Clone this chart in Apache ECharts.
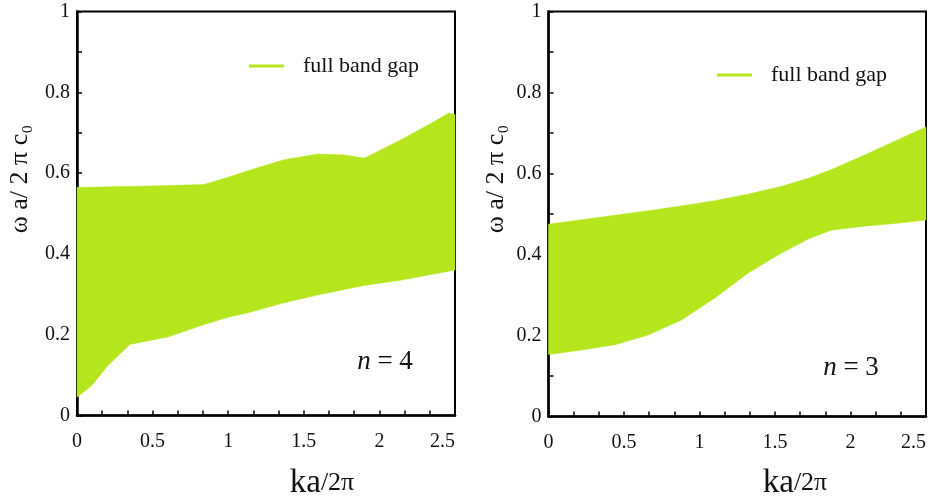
<!DOCTYPE html>
<html><head><meta charset="utf-8">
<script src="https://cdn.jsdelivr.net/npm/echarts@6/dist/echarts.min.js"></script>
<style>html,body{margin:0;padding:0;background:#fff}#c{width:934px;height:497px}</style>
</head><body><div id="c"></div>
<script>
// n = 4 (left panel)
const kLeft     = [0, 0.1, 0.2, 0.35, 0.6, 0.84, 1.0, 1.15, 1.37, 1.59, 1.77, 1.9, 2.14, 2.36, 2.46, 2.5];
const upperLeft = [0.565, 0.565, 0.566, 0.567, 0.569, 0.572, 0.59, 0.608, 0.633, 0.647, 0.645, 0.637, 0.682, 0.727, 0.749, 0.745];
const lowerLeft = [0.045, 0.075, 0.122, 0.176, 0.194, 0.225, 0.243, 0.256, 0.279, 0.298, 0.312, 0.322, 0.335, 0.350, 0.357, 0.36];
// n = 3 (right panel)
const kRight     = [0, 0.22, 0.44, 0.66, 0.88, 1.1, 1.32, 1.54, 1.72, 1.87, 2.09, 2.31, 2.5];
const upperRight = [0.475, 0.486, 0.497, 0.508, 0.520, 0.533, 0.549, 0.568, 0.588, 0.609, 0.645, 0.683, 0.715];
const lowerRight = [0.153, 0.164, 0.177, 0.201, 0.238, 0.292, 0.354, 0.403, 0.438, 0.460, 0.470, 0.477, 0.485];

const seriesName = 'full band gap';
const panelLabels = ['4', '3'];
const GREEN = '#b5e61d';
const FONT = 'Liberation Serif';
const INK = '#111';

function xAx(i){
  return {type:'value', gridIndex:i, min:0, max:2.5, interval:0.5,
    axisLine:{show:true, lineStyle:{color:'#000', width:2.5}},
    axisTick:{show:true, inside:true, length:5, lineStyle:{color:'#000', width:1.5}},
    minorTick:{show:true, splitNumber:3, length:5, lineStyle:{color:'#000', width:1.5}},
    splitLine:{show:false}, minorSplitLine:{show:false},
    axisLabel:{fontFamily:FONT, fontSize:20, color:INK, margin:16, alignMaxLabel:'right'}};
}
function yAx(i){
  return {type:'value', gridIndex:i, min:0, max:1, interval:0.2,
    axisLine:{show:true, lineStyle:{color:'#000', width:2.5}},
    axisTick:{show:true, inside:true, length:5, lineStyle:{color:'#000', width:1.5}},
    minorTick:{show:true, splitNumber:2, length:5, lineStyle:{color:'#000', width:1.5}},
    splitLine:{show:false}, minorSplitLine:{show:false},
    axisLabel:{fontFamily:FONT, fontSize:20, color:INK, margin:7}};
}
function band(i, k, lo, up){
  return {type:'custom', name:seriesName, xAxisIndex:i, yAxisIndex:i, z:1,
    itemStyle:{color:GREEN},
    data:k.map((x,j)=>[x, lo[j], up[j]]),
    encode:{x:0, y:[1,2]},
    renderItem:function(params, api){
      if (params.dataIndex !== 0) return null;
      const pts = [];
      for (let j = 0; j < k.length; j++) pts.push(api.coord([k[j], up[j]]));
      for (let j = k.length - 1; j >= 0; j--) pts.push(api.coord([k[j], lo[j]]));
      return {type:'polygon', shape:{points:pts}, style:{fill:GREEN, stroke:GREEN, lineWidth:0.5}};
    }};
}
function legend(left, top){
  return {data:[seriesName], left:left, top:top, icon:'rect', itemWidth:35, itemHeight:3,
    selectedMode:false, itemStyle:{color:GREEN},
    textStyle:{fontFamily:FONT, fontSize:22, color:INK, padding:[0,0,0,14]}};
}
const yTitle = (x) => ({type:'text', x:x, y:179, rotation:Math.PI/2,
  style:{text:'ω a/ 2 π c₀', font:'26px "Liberation Serif"', fill:INK, align:'center', verticalAlign:'middle'}});
const xTitle = (x) => ({type:'text', x:x, y:483,
  style:{text:'{a|ka}{b|/2π}', align:'center', verticalAlign:'middle', fill:INK,
    rich:{a:{fontFamily:FONT, fontSize:33, fill:INK}, b:{fontFamily:FONT, fontSize:26, fill:INK}}}});
const nLabel = (x, y, n) => ({type:'text', x:x, y:y,
  style:{text:'{i|n} = '+n, font:'27px "Liberation Serif"', fill:INK, align:'center', verticalAlign:'middle',
    rich:{i:{fontFamily:FONT, fontSize:27, fontStyle:'italic', fill:INK}}}});

const chart = echarts.init(document.getElementById('c'));
chart.setOption({
  animation:false,
  backgroundColor:'#fff',
  grid:[
    {left:77, right:479, top:11.5, bottom:81.5, show:true, borderColor:'#000', borderWidth:2, backgroundColor:'transparent'},
    {left:548.5, right:8, top:11.5, bottom:80.5, show:true, borderColor:'#000', borderWidth:2, backgroundColor:'transparent'}
  ],
  xAxis:[xAx(0), xAx(1)],
  yAxis:[yAx(0), yAx(1)],
  legend:[legend(244, 50), legend(712, 59)],
  series:[band(0, kLeft, lowerLeft, upperLeft), band(1, kRight, lowerRight, upperRight)],
  graphic:[yTitle(20), yTitle(496), xTitle(322), xTitle(795),
    nLabel(385, 362, panelLabels[0]), nLabel(851, 368, panelLabels[1])]
});
</script></body></html>
